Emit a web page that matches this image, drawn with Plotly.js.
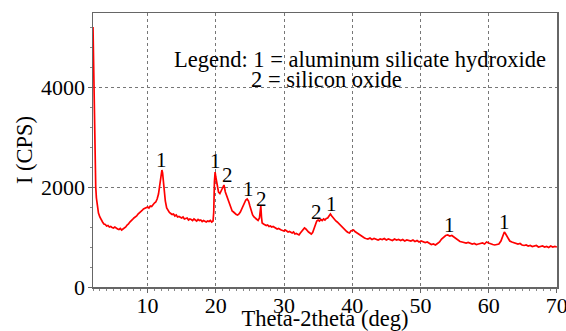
<!DOCTYPE html>
<html>
<head>
<meta charset="utf-8">
<script src="https://cdn.plot.ly/plotly-3.0.1.min.js"></script>
<style>html,body{margin:0;padding:0;background:#fff;}#chart{width:566px;height:331px;}</style>
</head>
<body>
<div id="chart"></div>
<script>
// Diffraction pattern (2theta in deg, intensity in CPS)
const twoTheta = [
 2.0,2.1,2.2,2.3,2.4,2.5,2.6,2.7,2.8,3.0,3.2,3.4,3.6,3.8,4.0,4.2,4.4,4.6,4.8,5.0,
 5.2,5.4,5.6,5.8,6.0,6.2,6.4,6.6,6.8,7.0,7.2,7.4,7.6,7.8,8.0,8.2,8.4,8.6,8.8,9.0,
 9.2,9.4,9.6,9.8,10.0,10.2,10.4,10.6,10.8,11.0,11.2,11.4,11.6,11.8,12.0,12.1,12.2,12.4,12.6,12.8,
 13.0,13.2,13.4,13.6,13.8,14.0,14.2,14.4,14.6,14.8,15.0,15.2,15.4,15.6,15.8,16.0,16.2,16.4,16.6,16.8,
 17.0,17.2,17.4,17.6,17.8,18.0,18.2,18.4,18.6,18.8,19.0,19.2,19.4,19.6,19.7,19.8,19.9,20.0,20.2,20.4,
 20.6,20.8,21.0,21.2,21.4,21.6,21.8,22.0,22.2,22.4,22.6,22.8,23.0,23.2,23.4,23.6,23.8,24.0,24.2,24.4,
 24.6,24.8,25.0,25.2,25.4,25.6,25.8,26.0,26.2,26.4,26.5,26.6,26.7,26.8,27.0,27.2,27.4,27.6,27.8,28.0,
 28.2,28.4,28.6,28.8,29.0,29.2,29.4,29.6,29.8,30.0,30.2,30.4,30.6,30.8,31.0,31.2,31.4,31.6,31.8,32.0,
 32.2,32.4,32.6,32.8,33.0,33.2,33.4,33.6,33.8,34.0,34.2,34.4,34.6,34.8,35.0,35.2,35.4,35.6,35.8,36.0,
 36.2,36.4,36.6,36.8,37.0,37.2,37.4,37.6,37.8,38.0,38.2,38.4,38.6,38.8,39.0,39.2,39.4,39.6,39.8,40.0,
 40.2,40.4,40.6,40.8,41.0,41.2,41.4,41.6,41.8,42.0,42.3,42.6,42.9,43.2,43.5,43.8,44.1,44.4,44.7,45.0,
 45.3,45.6,45.9,46.2,46.5,46.8,47.1,47.4,47.7,48.0,48.3,48.6,48.9,49.2,49.5,49.8,50.1,50.4,50.7,51.0,
 51.3,51.6,51.9,52.2,52.5,52.8,53.1,53.4,53.7,54.0,54.3,54.6,54.9,55.2,55.5,55.8,56.1,56.4,56.7,57.0,
 57.3,57.6,57.9,58.2,58.5,58.8,59.1,59.4,59.7,60.0,60.3,60.6,60.9,61.2,61.5,61.8,62.1,62.3,62.5,62.8,
 63.1,63.4,63.7,64.0,64.3,64.6,64.9,65.2,65.5,65.8,66.1,66.4,66.7,67.0,67.3,67.6,67.9,68.2,68.5,68.8,
 69.1,69.4,69.7,70.0
];
const intensity = [
 5200,4400,3200,2400,2000,1780,1640,1560,1480,1400,1340,1300,1260,1250,1220,1230,1200,1210,1190,1180,
 1200,1170,1160,1150,1170,1140,1160,1180,1200,1240,1260,1300,1320,1350,1380,1400,1420,1460,1480,1500,
 1530,1560,1570,1590,1600,1580,1620,1610,1650,1680,1700,1760,1860,2080,2300,2340,2280,1980,1720,1580,
 1520,1490,1470,1450,1460,1420,1440,1400,1410,1390,1380,1400,1360,1370,1380,1340,1360,1350,1330,1360,
 1340,1320,1350,1330,1340,1310,1330,1320,1300,1320,1310,1330,1300,1320,1500,2100,2300,2200,2000,1900,
 1870,1920,1960,2040,1900,1820,1760,1680,1580,1520,1500,1470,1450,1440,1460,1500,1560,1640,1700,1740,
 1760,1720,1620,1500,1440,1400,1370,1350,1330,1380,1540,1620,1400,1280,1260,1250,1230,1240,1210,1220,
 1200,1210,1190,1180,1160,1170,1150,1140,1130,1120,1140,1110,1100,1110,1090,1080,1100,1060,1070,1050,
 1040,1080,1110,1140,1180,1160,1120,1100,1080,1060,1090,1160,1260,1320,1340,1320,1350,1330,1360,1340,
 1370,1380,1420,1460,1420,1380,1360,1320,1300,1270,1240,1220,1200,1160,1120,1110,1090,1080,1120,1130,
 1140,1110,1090,1070,1050,1030,1010,990,980,970,960,980,950,970,960,940,960,950,970,940,
 960,950,930,960,940,950,930,950,920,940,930,920,940,910,930,900,920,910,890,900,
 880,850,860,840,870,900,960,1000,1030,1040,1020,1030,1000,960,930,910,900,890,880,890,
 870,860,870,850,860,870,880,860,900,880,860,850,840,850,860,920,1040,1100,1060,980,
 920,900,890,870,860,870,840,830,840,820,830,810,820,830,800,810,820,800,810,790,
 820,800,810,800
];
// Peak markers
const peakX = [12.0, 20.0, 21.7, 24.8, 26.7, 34.7, 36.9, 54.2, 62.3];
const peakY = [2540, 2520, 2240, 1960, 1760, 1500, 1660, 1240, 1300];
const peakLabels = ['1','1','2','1','2','2','1','1','1'];
const legendLines = ['Legend: 1 = aluminum silicate hydroxide', '2 = silicon oxide'];
const xTitle = 'Theta-2theta (deg)';
const yTitle = 'I (CPS)';

const serif = '"Liberation Serif", "Times New Roman", Times, serif';
const annotations = peakX.map((x, i) => ({
  x: x, y: peakY[i], xref: 'x', yref: 'y', text: peakLabels[i], showarrow: false,
  xanchor: 'center', yanchor: 'middle', font: {family: serif, size: 21, color: '#000'}
}));
annotations.push({x: 13.6, y: 4550, xref: 'x', yref: 'y', text: legendLines[0], showarrow: false,
  xanchor: 'left', yanchor: 'middle', font: {family: serif, size: 22.5, color: '#000'}});
annotations.push({x: 24.8, y: 4160, xref: 'x', yref: 'y', text: legendLines[1], showarrow: false,
  xanchor: 'left', yanchor: 'middle', font: {family: serif, size: 22.5, color: '#000'}});

const trace = {
  x: twoTheta, y: intensity, type: 'scatter', mode: 'lines',
  line: {color: '#ff0000', width: 1.7}, hoverinfo: 'skip'
};

const layout = {
  width: 566, height: 331,
  margin: {l: 93, r: 9, t: 13, b: 44},
  paper_bgcolor: '#fff', plot_bgcolor: '#fff',
  showlegend: false,
  font: {family: serif, color: '#000', size: 21},
  xaxis: {
    range: [2, 70.02], tickvals: [10,20,30,40,50,60,70], ticks: 'outside', ticklen: 4, tickwidth: 1,
    tickcolor: '#666', showline: true, linecolor: '#666', linewidth: 1.5, mirror: true,
    showgrid: true, gridcolor: '#777', griddash: '3px,3px', gridwidth: 1, zeroline: false,
    tickfont: {family: serif, size: 22, color: '#000'}, ticklabelstandoff: -6, ticklabeloverflow: 'allow',
    minor: {dtick: 1, tick0: 0, ticks: 'outside', ticklen: 2, tickcolor: '#888', showgrid: false},
    title: {text: xTitle, font: {family: serif, size: 22.5, color: '#000'}, standoff: 0},
    automargin: false
  },
  yaxis: {
    range: [0, 5480], tickvals: [0, 2000, 4000], ticks: 'outside', ticklen: 4, tickwidth: 1,
    tickcolor: '#666', showline: true, linecolor: '#666', linewidth: 1.5, mirror: true,
    showgrid: true, gridcolor: '#777', griddash: '3px,3px', gridwidth: 1, zeroline: false,
    tickfont: {family: serif, size: 22, color: '#000'}, ticklabelstandoff: -2,
    minor: {dtick: 400, tick0: 0, ticks: 'outside', ticklen: 2, tickcolor: '#888', showgrid: false},
    title: {text: yTitle, font: {family: serif, size: 22.5, color: '#000'}, standoff: 2},
    automargin: false
  },
  annotations: annotations
};

Plotly.newPlot('chart', [trace], layout, {displayModeBar: false, staticPlot: true});
</script>
</body>
</html>
